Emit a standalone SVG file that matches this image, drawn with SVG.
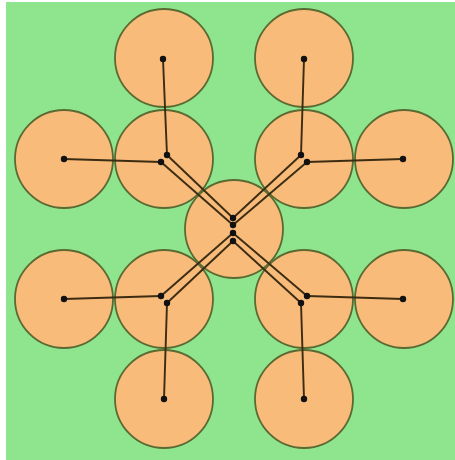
<svg xmlns="http://www.w3.org/2000/svg" width="455" height="460" viewBox="0 0 455 460">
<style>
.n{fill:#f8bb7a;stroke:#5b6a32;stroke-width:1.8}
.e{stroke:#3b2c12;stroke-width:1.9;fill:none}
.d{fill:#111}
</style>
<rect x="0" y="0" width="455" height="460" fill="#ffffff"/>
<rect x="6" y="2" width="449" height="458" fill="#8fe58d"/>
<g id="nodes">
<g id="n-top-l"><circle class="n" cx="164" cy="58" r="49"/></g>
<g id="n-top-r"><circle class="n" cx="304" cy="58" r="49"/></g>
<g id="n-left-t"><circle class="n" cx="64" cy="159" r="49"/></g>
<g id="n-left-b"><circle class="n" cx="64" cy="299" r="49"/></g>
<g id="n-right-t"><circle class="n" cx="404" cy="159" r="49"/></g>
<g id="n-right-b"><circle class="n" cx="404" cy="299" r="49"/></g>
<g id="n-bot-l"><circle class="n" cx="164" cy="399" r="49"/></g>
<g id="n-bot-r"><circle class="n" cx="304" cy="399" r="49"/></g>
<g id="n-in-tl"><circle class="n" cx="164" cy="159" r="49"/></g>
<g id="n-in-tr"><circle class="n" cx="304" cy="159" r="49"/></g>
<g id="n-in-bl"><circle class="n" cx="164" cy="299" r="49"/></g>
<g id="n-in-br"><circle class="n" cx="304" cy="299" r="49"/></g>
<g id="n-center"><circle class="n" cx="234" cy="229" r="49"/></g>
</g>
<g id="connectors">
<line class="e" x1="163" y1="59" x2="167" y2="155"/>
<line class="e" x1="64" y1="159" x2="161" y2="162"/>
<line class="e" x1="304" y1="59" x2="301" y2="155"/>
<line class="e" x1="403" y1="159" x2="307" y2="162"/>
<line class="e" x1="64" y1="299" x2="161" y2="296"/>
<line class="e" x1="164" y1="399" x2="167" y2="303"/>
<line class="e" x1="403" y1="299" x2="307" y2="296"/>
<line class="e" x1="304" y1="399" x2="301" y2="303"/>
<line class="e" x1="167" y1="155" x2="233" y2="218"/>
<line class="e" x1="161" y1="162" x2="233" y2="225"/>
<line class="e" x1="301" y1="155" x2="233" y2="218"/>
<line class="e" x1="307" y1="162" x2="233" y2="225"/>
<line class="e" x1="161" y1="296" x2="233" y2="233"/>
<line class="e" x1="167" y1="303" x2="233" y2="241"/>
<line class="e" x1="307" y1="296" x2="233" y2="233"/>
<line class="e" x1="301" y1="303" x2="233" y2="241"/>
</g>
<g id="dots">
<circle class="d" cx="163" cy="59" r="3.2"/>
<circle class="d" cx="304" cy="59" r="3.2"/>
<circle class="d" cx="64" cy="159" r="3.2"/>
<circle class="d" cx="403" cy="159" r="3.2"/>
<circle class="d" cx="64" cy="299" r="3.2"/>
<circle class="d" cx="403" cy="299" r="3.2"/>
<circle class="d" cx="164" cy="399" r="3.2"/>
<circle class="d" cx="304" cy="399" r="3.2"/>
<circle class="d" cx="167" cy="155" r="3.2"/>
<circle class="d" cx="161" cy="162" r="3.2"/>
<circle class="d" cx="301" cy="155" r="3.2"/>
<circle class="d" cx="307" cy="162" r="3.2"/>
<circle class="d" cx="161" cy="296" r="3.2"/>
<circle class="d" cx="167" cy="303" r="3.2"/>
<circle class="d" cx="307" cy="296" r="3.2"/>
<circle class="d" cx="301" cy="303" r="3.2"/>
<circle class="d" cx="233" cy="218" r="3.2"/>
<circle class="d" cx="233" cy="225" r="3.2"/>
<circle class="d" cx="233" cy="233" r="3.2"/>
<circle class="d" cx="233" cy="241" r="3.2"/>
</g>
</svg>
